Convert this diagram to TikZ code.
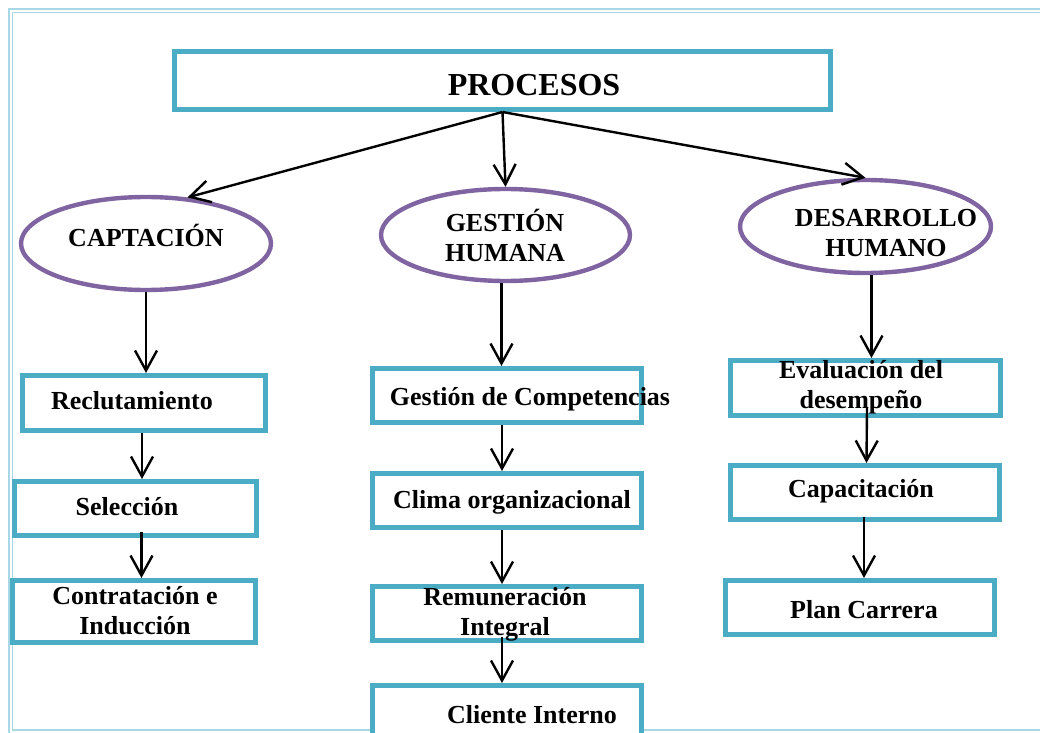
\documentclass[tikz,border=0pt]{standalone}
\usepackage{fontspec}
\setmainfont{Liberation Serif}
\usetikzlibrary{shapes,arrows.meta}

\definecolor{turquesa}{HTML}{4BACC6}
\definecolor{morado}{HTML}{8064A2}
\definecolor{marco}{HTML}{A8D8E6}

\begin{document}
\begin{tikzpicture}[x=0.5pt,y=-0.5pt]
\tikzstyle{caja}=[rectangle,draw=turquesa,line width=2.5pt,fill=white,inner sep=0pt]
\tikzstyle{elipse}=[ellipse,draw=morado,line width=2.2pt,fill=white,inner sep=0pt]
\tikzstyle{texto}=[font=\fontsize{13}{15}\selectfont\bfseries,align=center,inner sep=0pt]
\tikzstyle{flecha}=[-{Straight Barb[length=10pt,width=11pt]},line width=1.2pt]
\useasboundingbox (0,0) rectangle (1040,733);
% marco doble
\draw[marco,line width=0.9pt] (9,9) rectangle (1055,733.5);
\draw[marco,line width=0.9pt] (12.5,12.5) rectangle (1050,730);
% titulo
\node[caja,minimum width=328pt,minimum height=29pt] (procesos) at (502.5,80.5) {};
\node[texto,font=\fontsize{16}{18}\selectfont\bfseries,anchor=base] (t-procesos) at (534,96) {PROCESOS};
% elipses
\node[elipse,minimum width=125pt,minimum height=46.5pt] (capt) at (146,243.5) {};
\node[texto,anchor=base] (t-capt) at (146,247) {CAPTACIÓN};
\node[elipse,minimum width=124.5pt,minimum height=46pt] (gest) at (505.5,235) {};
\node[texto] (t-gest) at (505,235.5) {GESTIÓN\\HUMANA};
\node[elipse,minimum width=125.5pt,minimum height=46.5pt] (desa) at (865.5,226.5) {};
\node[texto] (t-desa) at (886,233.5) {DESARROLLO\\HUMANO};
% captacion
\node[caja,minimum width=121.5pt,minimum height=27.5pt] (recl) at (144,403) {};
\node[texto,anchor=base] (t-recl) at (132,409) {Reclutamiento};
\node[caja,minimum width=121pt,minimum height=27pt] (sel) at (135.5,508.5) {};
\node[texto,anchor=base] (t-sel) at (127,515) {Selección};
\node[caja,minimum width=121.5pt,minimum height=31pt] (contr) at (134,611.5) {};
\node[texto] (t-contr) at (135,611) {Contratación e\\Inducción};
% gestion humana
\node[caja,minimum width=134.5pt,minimum height=27pt] (comp) at (507,395.5) {};
\node[texto,anchor=base] (t-comp) at (530,405) {Gestión de Competencias};
\node[caja,minimum width=134.5pt,minimum height=27pt] (clima) at (507,500.5) {};
\node[texto,anchor=base] (t-clima) at (512,508) {Clima organizacional};
\node[caja,minimum width=134.5pt,minimum height=27pt] (remun) at (507,613.5) {};
\node[texto] (t-remun) at (505,614) {Remuneración\\Integral};
\node[caja,minimum width=134.5pt,minimum height=27.5pt] (cliente) at (507,713) {};
\node[texto,anchor=base] (t-cliente) at (532,723) {Cliente Interno};
% desarrollo humano
\node[caja,minimum width=135pt,minimum height=27.5pt] (eval) at (865.5,388) {};
\node[texto] (t-eval) at (861,387) {Evaluación del\\desempeño};
\node[caja,minimum width=134.5pt,minimum height=27pt] (capac) at (865,492.5) {};
\node[texto,anchor=base] (t-capac) at (861,497) {Capacitación};
\node[caja,minimum width=134.5pt,minimum height=27pt] (plan) at (860,607.5) {};
\node[texto,anchor=base] (t-plan) at (864,618) {Plan Carrera};
% flechas
\draw[flecha] (procesos.south) -- (capt.48);
\draw[flecha] (procesos.south) -- (gest.north);
\draw[flecha] (procesos.south) -- (desa.north);
\draw[flecha] (capt.south) -- (capt.south |- recl.north);
\draw[flecha] ([xshift=-1pt]recl.south) -- ([xshift=-1pt]recl.south |- sel.north);
\draw[flecha] ([xshift=3pt,yshift=3pt]sel.south) -- ([xshift=3pt]sel.south |- contr.north);
\draw[flecha] ([xshift=-2pt]gest.south) -- ([xshift=-2pt]gest.south |- comp.north);
\draw[flecha] ([xshift=-2.5pt]comp.south) -- ([xshift=-2.5pt]clima.north);
\draw[flecha] ([xshift=-2.5pt]clima.south) -- ([xshift=-2.5pt]remun.north);
\draw[flecha] ([xshift=-2.5pt,yshift=3pt]remun.south) -- ([xshift=-2.5pt]cliente.north);
\draw[flecha] ([xshift=3pt]desa.south) -- ([xshift=3pt]desa.south |- eval.north);
\draw[flecha] ([xshift=0.75pt,yshift=5pt]eval.south) -- ([xshift=0.75pt]capac.north);
\draw[flecha] ([xshift=-0.5pt,yshift=2.5pt]capac.south) -- ([xshift=-0.5pt]capac.south |- plan.north);
\end{tikzpicture}
\end{document}
